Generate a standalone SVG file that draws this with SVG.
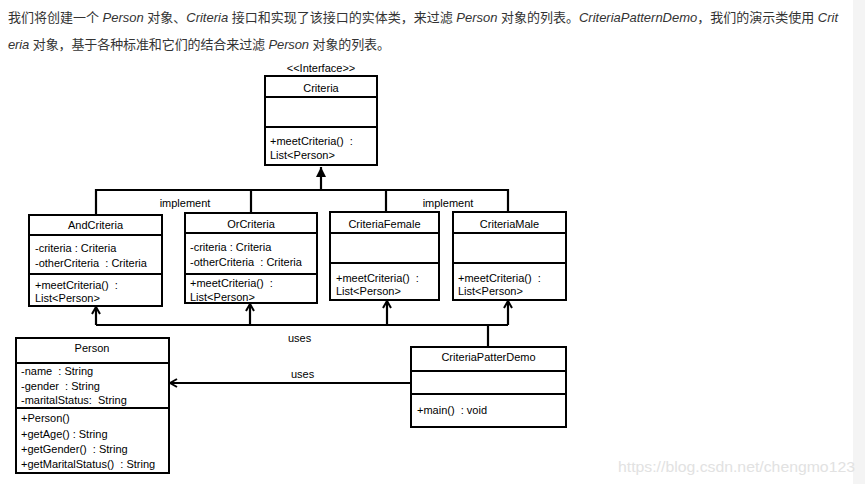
<svg xmlns="http://www.w3.org/2000/svg" width="865" height="484" viewBox="0 0 865 484">
<style>
.box{fill:#fff;stroke:#000;stroke-width:2}
.sep{stroke:#000;stroke-width:2}
.t{font-family:"Liberation Sans",Arial,sans-serif;font-size:11px;fill:#000;white-space:pre}
.c{text-anchor:middle}
.con{fill:none;stroke:#000;stroke-width:2.2}
.intro{font-family:"Liberation Sans","Noto Sans CJK SC",sans-serif;font-size:13px;fill:#333}
.i{font-style:italic}
</style>
<defs>
<marker id="open" viewBox="0 0 10 10" refX="9" refY="5" markerWidth="10" markerHeight="10" markerUnits="userSpaceOnUse" orient="auto">
<path d="M2,1 L9,5 L2,9" fill="none" stroke="#000" stroke-width="2"/>
</marker>
<marker id="filled" viewBox="0 0 10 10" refX="10" refY="5" markerWidth="11" markerHeight="10" markerUnits="userSpaceOnUse" orient="auto">
<path d="M0,0 L10,5 L0,10 z" fill="#000"/>
</marker>
</defs>
<rect x="0" y="0" width="865" height="484" fill="#fff"/>
<rect x="853" y="0" width="12" height="484" fill="#f4f4f4"/>
<g id="intro">
<text class="intro" x="8" y="22" textLength="830" lengthAdjust="spacing">我们将创建一个 <tspan class="i">Person</tspan> 对象、<tspan class="i">Criteria</tspan> 接口和实现了该接口的实体类，来过滤 <tspan class="i">Person</tspan> 对象的列表。<tspan class="i">CriteriaPatternDemo</tspan>，我们的演示类使用 <tspan class="i">Crit</tspan></text>
<text class="intro" x="8" y="49" textLength="382" lengthAdjust="spacing"><tspan class="i">eria</tspan> 对象，基于各种标准和它们的结合来过滤 <tspan class="i">Person</tspan> 对象的列表。</text>
</g>
<g id="connectors">
<path class="con" d="M321,190 V167" marker-end="url(#filled)"/>
<path class="con" d="M96,215 V190 H508 V212"/>
<path class="con" d="M251,190 V213"/>
<path class="con" d="M386,190 V212"/>
<path class="con" d="M488,347 V325"/>
<path class="con" d="M96,325 H508"/>
<path class="con" d="M96,325 V307" marker-end="url(#open)"/>
<path class="con" d="M250,325 V304" marker-end="url(#open)"/>
<path class="con" d="M387,325 V301" marker-end="url(#open)"/>
<path class="con" d="M508,325 V301" marker-end="url(#open)"/>
<path class="con" d="M411,383 H170" marker-end="url(#open)"/>
<text class="t" x="185" y="207" text-anchor="middle">implement</text>
<text class="t" x="448" y="207" text-anchor="middle">implement</text>
<text class="t" x="288" y="342">uses</text>
<text class="t" x="291" y="378">uses</text>
</g>
<g id="Criteria">
<text class="t c" x="321" y="72">&lt;&lt;Interface&gt;&gt;</text>
<rect class="box" x="265" y="76" width="112" height="89"/>
<line class="sep" x1="265" y1="97" x2="377" y2="97"/>
<line class="sep" x1="265" y1="127" x2="377" y2="127"/>
<text class="t c" x="321" y="92">Criteria</text>
<text class="t" x="270" y="145">+meetCriteria()  :</text>
<text class="t" x="270" y="159">List&lt;Person&gt;</text>
</g>
<g id="AndCriteria">
<rect class="box" x="29" y="215" width="133" height="91"/>
<line class="sep" x1="29" y1="235" x2="162" y2="235"/>
<line class="sep" x1="29" y1="274" x2="162" y2="274"/>
<text class="t c" x="95.5" y="229">AndCriteria</text>
<text class="t" x="35" y="252">-criteria : Criteria</text>
<text class="t" x="35" y="267">-otherCriteria  : Criteria</text>
<text class="t" x="35" y="289">+meetCriteria()  :</text>
<text class="t" x="35" y="302">List&lt;Person&gt;</text>
</g>
<g id="OrCriteria">
<rect class="box" x="185" y="213" width="132" height="90"/>
<line class="sep" x1="185" y1="233" x2="317" y2="233"/>
<line class="sep" x1="185" y1="274" x2="317" y2="274"/>
<text class="t c" x="251" y="228">OrCriteria</text>
<text class="t" x="190" y="251">-criteria : Criteria</text>
<text class="t" x="190" y="266">-otherCriteria  : Criteria</text>
<text class="t" x="190" y="287">+meetCriteria()  :</text>
<text class="t" x="190" y="301">List&lt;Person&gt;</text>
</g>
<g id="CriteriaFemale">
<rect class="box" x="330" y="212" width="109" height="88"/>
<line class="sep" x1="330" y1="233" x2="439" y2="233"/>
<line class="sep" x1="330" y1="263" x2="439" y2="263"/>
<text class="t c" x="384.5" y="228">CriteriaFemale</text>
<text class="t" x="336" y="282">+meetCriteria()  :</text>
<text class="t" x="336" y="295">List&lt;Person&gt;</text>
</g>
<g id="CriteriaMale">
<rect class="box" x="453" y="212" width="113" height="88"/>
<line class="sep" x1="453" y1="233" x2="566" y2="233"/>
<line class="sep" x1="453" y1="263" x2="566" y2="263"/>
<text class="t c" x="509.5" y="228">CriteriaMale</text>
<text class="t" x="458" y="282">+meetCriteria()  :</text>
<text class="t" x="458" y="295">List&lt;Person&gt;</text>
</g>
<g id="Person">
<rect class="box" x="16" y="338" width="153" height="135"/>
<line class="sep" x1="16" y1="363" x2="169" y2="363"/>
<line class="sep" x1="16" y1="408" x2="169" y2="408"/>
<text class="t c" x="92" y="352">Person</text>
<text class="t" x="21" y="375">-name  : String</text>
<text class="t" x="21" y="390">-gender  : String</text>
<text class="t" x="21" y="404">-maritalStatus:  String</text>
<text class="t" x="21" y="422">+Person()</text>
<text class="t" x="21" y="438">+getAge() : String</text>
<text class="t" x="21" y="453">+getGender()  : String</text>
<text class="t" x="21" y="468">+getMaritalStatus()  : String</text>
</g>
<g id="CriteriaPatterDemo">
<rect class="box" x="411" y="347" width="155" height="80"/>
<line class="sep" x1="411" y1="371" x2="566" y2="371"/>
<line class="sep" x1="411" y1="394" x2="566" y2="394"/>
<text class="t c" x="488.5" y="361">CriteriaPatterDemo</text>
<text class="t" x="417" y="414">+main()  : void</text>
</g>
<text x="618" y="472" font-family="Liberation Sans,Arial,sans-serif" font-size="15" fill="#e2e2e2" textLength="237" lengthAdjust="spacingAndGlyphs">https://blog.csdn.net/chengmo123</text>
</svg>
